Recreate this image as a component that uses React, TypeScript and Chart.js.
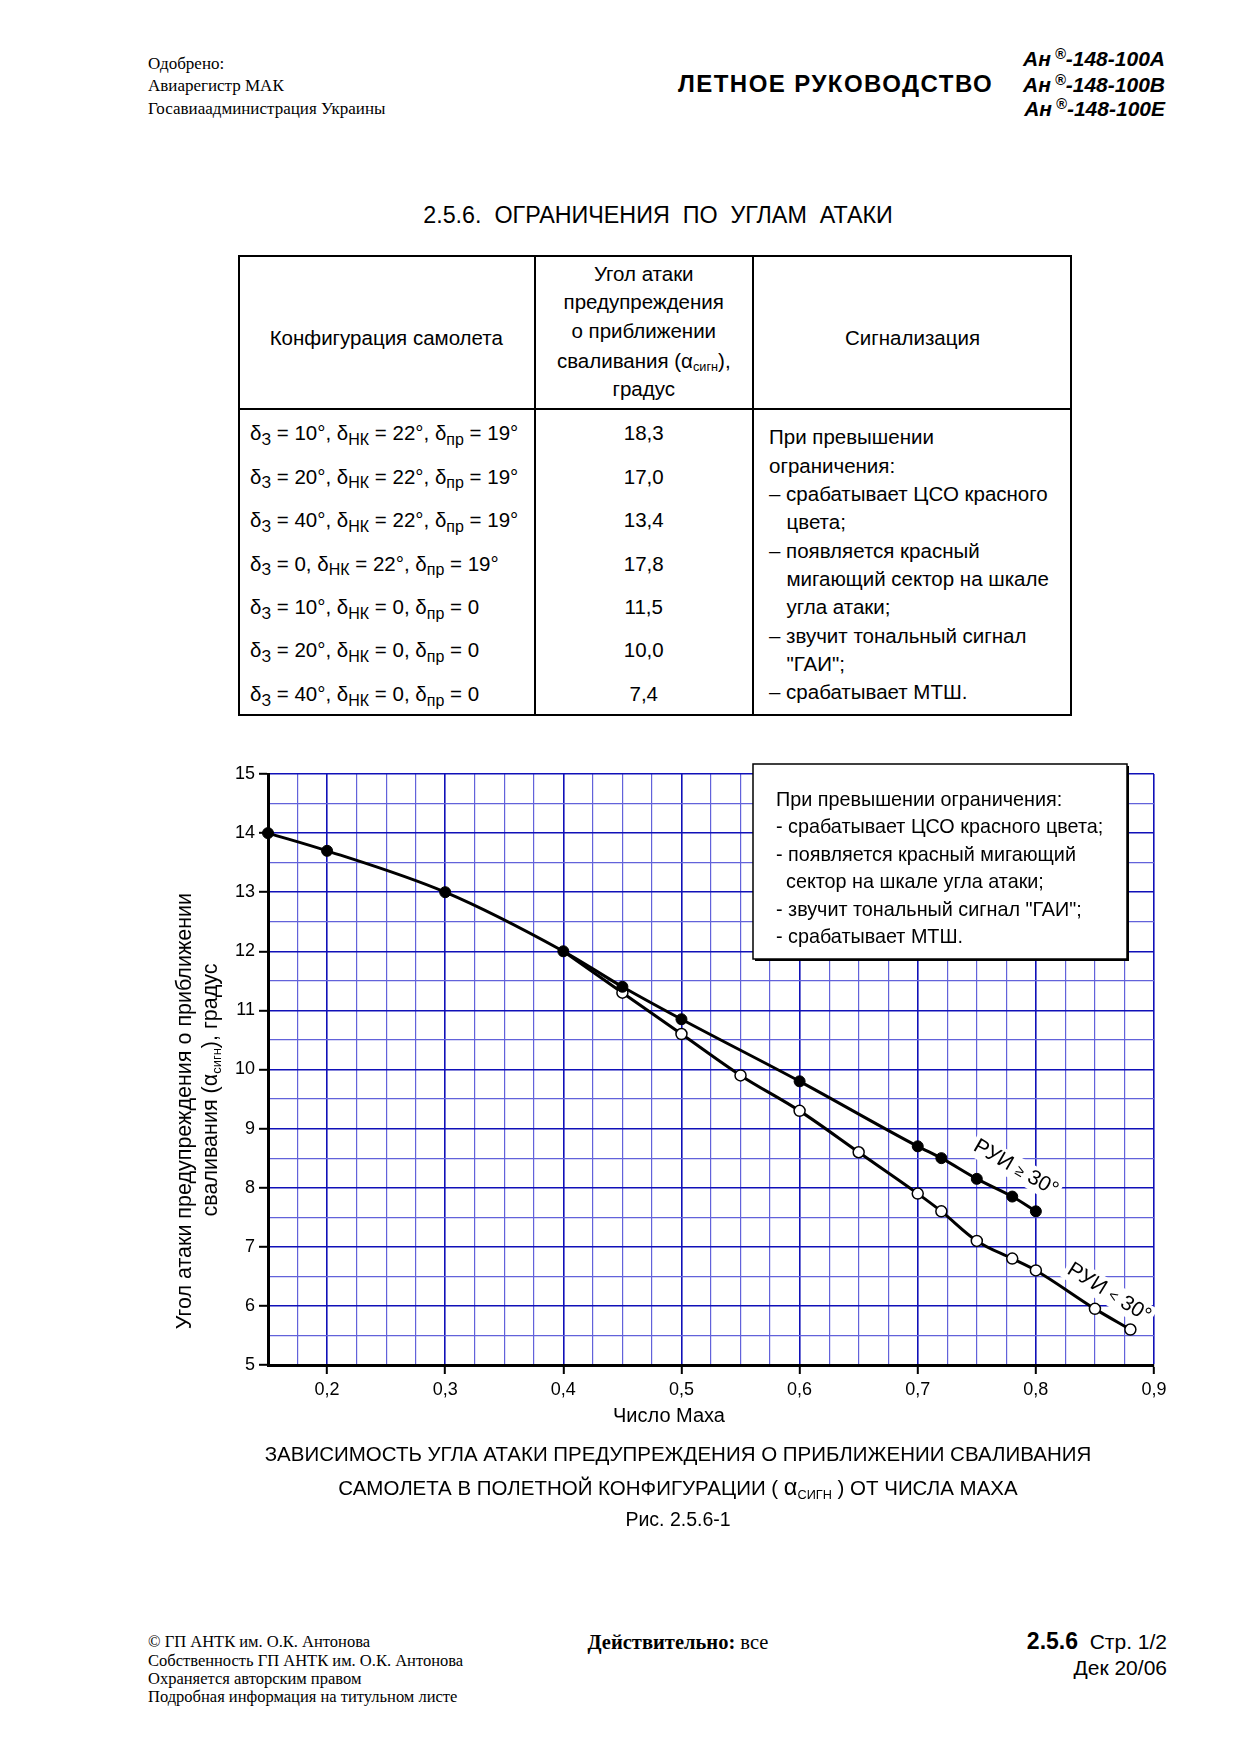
import React, { useEffect, useRef } from 'react';
import { Chart, registerables } from 'chart.js';

Chart.register(...registerables);

// ---------------- DATA ----------------
const MACH_RUI_GE30 = [0.15, 0.2, 0.3, 0.4, 0.45, 0.5, 0.6, 0.7, 0.72, 0.75, 0.78, 0.8];
const ALPHA_RUI_GE30 = [14.0, 13.7, 13.0, 12.0, 11.4, 10.85, 9.8, 8.7, 8.5, 8.15, 7.85, 7.6];
const MACH_RUI_LT30 = [0.4, 0.45, 0.5, 0.55, 0.6, 0.65, 0.7, 0.72, 0.75, 0.78, 0.8, 0.85, 0.88];
const ALPHA_RUI_LT30 = [12.0, 11.3, 10.6, 9.9, 9.3, 8.6, 7.9, 7.6, 7.1, 6.8, 6.6, 5.95, 5.6];

const X_TICK_VALUES = [0.2, 0.3, 0.4, 0.5, 0.6, 0.7, 0.8, 0.9];
const X_TICK_LABELS = ['0,2', '0,3', '0,4', '0,5', '0,6', '0,7', '0,8', '0,9'];
const Y_TICK_VALUES = [5, 6, 7, 8, 9, 10, 11, 12, 13, 14, 15];
const Y_TICK_LABELS = ['5', '6', '7', '8', '9', '10', '11', '12', '13', '14', '15'];
const X_MIN = 0.15;
const X_MAX = 0.9;
const X_MINOR_STEP = 0.025;
const Y_MIN = 5;
const Y_MAX = 15;
const Y_MINOR_STEP = 0.5;

const CONFIG_FLAP = ['10°', '20°', '40°', '0', '10°', '20°', '40°'];
const CONFIG_NK = ['22°', '22°', '22°', '22°', '0', '0', '0'];
const CONFIG_PR = ['19°', '19°', '19°', '19°', '0', '0', '0'];
const ALPHA_WARN = ['18,3', '17,0', '13,4', '17,8', '11,5', '10,0', '7,4'];

const SIGNAL_LINES: [string, boolean][] = [
  ['При превышении', false],
  ['ограничения:', false],
  ['– срабатывает ЦСО красного', false],
  ['цвета;', true],
  ['– появляется красный', false],
  ['мигающий сектор на шкале', true],
  ['угла атаки;', true],
  ['– звучит тональный сигнал', false],
  ['"ГАИ";', true],
  ['– срабатывает МТШ.', false],
];

const BOX_LINES: [string, boolean][] = [
  ['При превышении ограничения:', false],
  ['- срабатывает ЦСО красного цвета;', false],
  ['- появляется красный мигающий', false],
  ['сектор на шкале угла атаки;', true],
  ['- звучит тональный сигнал "ГАИ";', false],
  ['- срабатывает МТШ.', false],
];

// ---------------- STYLE ----------------
const SANS = '"Liberation Sans", Arial, sans-serif';
const SERIF = '"Liberation Serif", "Times New Roman", serif';
const GRID_MAJOR = '#1010b8';
const GRID_MINOR = '#6262da';

const CANVAS_LEFT = 150;
const CANVAS_TOP = 740;
const CANVAS_W = 1030;
const CANVAS_H = 700;
const px = (x: number) => x - CANVAS_LEFT;
const py = (y: number) => y - CANVAS_TOP;

const isMajorX = (v: number) => X_TICK_VALUES.some((t) => Math.abs(t - v) < 1e-6);
const isMajorY = (v: number) => Y_TICK_VALUES.some((t) => Math.abs(t - v) < 1e-6);

type Seg = [string, number, number];

function drawSegs(ctx: CanvasRenderingContext2D, segs: Seg[], family: string, startX?: number) {
  const widths = segs.map(([t, s]) => {
    ctx.font = `${s}px ${family}`;
    return ctx.measureText(t).width;
  });
  const total = widths.reduce((a, b) => a + b, 0);
  let x = startX === undefined ? -total / 2 : startX;
  segs.forEach(([t, s, dy], i) => {
    ctx.font = `${s}px ${family}`;
    ctx.fillText(t, x, dy);
    x += widths[i];
  });
  return total;
}

function measureSegs(ctx: CanvasRenderingContext2D, segs: Seg[], family: string) {
  return segs.reduce((acc, [t, s]) => {
    ctx.font = `${s}px ${family}`;
    return acc + ctx.measureText(t).width;
  }, 0);
}

const decorPlugin = {
  id: 'decor',
  afterDraw(chart: any) {
    const ctx: CanvasRenderingContext2D = chart.ctx;
    const xs = chart.scales.x;
    const ys = chart.scales.y;
    ctx.save();
    ctx.fillStyle = '#000';
    ctx.textAlign = 'left';
    ctx.textBaseline = 'middle';

    // curve labels
    const labels: { x: number; y: number; ang: number; segs: Seg[] }[] = [
      { x: 0.783, y: 8.33, ang: 30, segs: [['РУИ ', 21, 0], ['≥', 15, 1], [' 30°', 21, 0]] },
      { x: 0.862, y: 6.22, ang: 32, segs: [['РУИ ', 21, 0], ['<', 15, 1], [' 30°', 21, 0]] },
    ];
    labels.forEach((l) => {
      ctx.save();
      ctx.translate(xs.getPixelForValue(l.x), ys.getPixelForValue(l.y));
      ctx.rotate((l.ang * Math.PI) / 180);
      const w = measureSegs(ctx, l.segs, SANS);
      ctx.fillStyle = '#fff';
      ctx.fillRect(-w / 2 - 3, -12, w + 6, 24);
      ctx.fillStyle = '#000';
      drawSegs(ctx, l.segs, SANS);
      ctx.restore();
    });

    // note box
    const bx = px(753), byy = py(764), bw = 374, bh = 195;
    ctx.fillStyle = '#000';
    ctx.fillRect(bx + 2, byy + 2, bw, bh);
    ctx.fillStyle = '#fff';
    ctx.fillRect(bx, byy, bw, bh);
    ctx.strokeStyle = '#000';
    ctx.lineWidth = 1.5;
    ctx.strokeRect(bx, byy, bw, bh);
    ctx.fillStyle = '#000';
    ctx.textBaseline = 'alphabetic';
    ctx.font = `19.8px ${SANS}`;
    BOX_LINES.forEach(([t, indent], i) => {
      ctx.fillText(t, px(indent ? 786 : 776), py(806 + i * 27.4));
    });

    // y axis title
    ctx.textBaseline = 'middle';
    ctx.save();
    ctx.translate(px(185), py(1111));
    ctx.rotate(-Math.PI / 2);
    drawSegs(ctx, [['Угол атаки предупреждения о приближении', 21.5, 0]], SANS);
    ctx.restore();
    ctx.save();
    ctx.translate(px(211), py(1090));
    ctx.rotate(-Math.PI / 2);
    drawSegs(ctx, [['сваливания (α', 21.5, 0], ['сигн', 13, 6], ['), градус', 21.5, 0]], SANS);
    ctx.restore();

    // x axis title
    ctx.font = `20px ${SANS}`;
    ctx.textAlign = 'center';
    ctx.fillText('Число Маха', px(669), py(1416));
    ctx.restore();
  },
};

function ChartCanvas() {
  const ref = useRef<HTMLCanvasElement | null>(null);
  useEffect(() => {
    if (!ref.current) return;
    const chart = new Chart(ref.current, {
      type: 'line',
      data: {
        datasets: [
          {
            label: 'РУИ ≥ 30°',
            data: MACH_RUI_GE30.map((x, i) => ({ x, y: ALPHA_RUI_GE30[i] })),
            borderColor: '#000',
            borderWidth: 3,
            pointRadius: 5.5,
            pointBackgroundColor: '#000',
            pointBorderColor: '#000',
            pointBorderWidth: 1,
            cubicInterpolationMode: 'monotone',
            order: 0,
            clip: false,
          } as any,
          {
            label: 'РУИ < 30°',
            data: MACH_RUI_LT30.map((x, i) => ({ x, y: ALPHA_RUI_LT30[i] })),
            borderColor: '#000',
            borderWidth: 3,
            pointRadius: (c: any) => (c.dataIndex === 0 ? 0 : 5.5),
            pointBackgroundColor: '#fff',
            pointBorderColor: '#000',
            pointBorderWidth: 1.5,
            cubicInterpolationMode: 'monotone',
            order: 1,
            clip: false,
          } as any,
        ],
      },
      options: {
        responsive: false,
        animation: false,
        events: [],
        layout: { padding: { top: 34, right: 26, bottom: 0, left: 0 } },
        plugins: { legend: { display: false }, tooltip: { enabled: false }, title: { display: false } },
        scales: {
          x: {
            type: 'linear',
            min: X_MIN,
            max: X_MAX,
            afterBuildTicks: (s: any) => {
              const n = Math.round((X_MAX - X_MIN) / X_MINOR_STEP);
              const t = [];
              for (let i = 0; i <= n; i++) t.push({ value: Math.round((X_MIN + i * X_MINOR_STEP) * 1000) / 1000 });
              s.ticks = t;
            },
            afterFit: (s: any) => {
              s.height = CANVAS_H - (1365 - CANVAS_TOP);
            },
            ticks: {
              autoSkip: false,
              maxRotation: 0,
              minRotation: 0,
              padding: 5,
              color: '#000',
              font: { family: SANS, size: 18 },
              callback: (v: any) => {
                const i = X_TICK_VALUES.findIndex((t) => Math.abs(t - v) < 1e-6);
                return i >= 0 ? X_TICK_LABELS[i] : '';
              },
            },
            grid: {
              z: -1,
              color: (c: any) => (c.tick && isMajorX(c.tick.value) ? GRID_MAJOR : GRID_MINOR),
              lineWidth: (c: any) => (c.tick && isMajorX(c.tick.value) ? 1.6 : 1.2),
              tickColor: (c: any) => (c.tick && isMajorX(c.tick.value) ? '#000' : 'rgba(0,0,0,0)'),
              tickLength: 9,
              tickWidth: 2,
              drawTicks: true,
            },
            border: { display: true, color: '#000', width: 3 },
          },
          y: {
            type: 'linear',
            min: Y_MIN,
            max: Y_MAX,
            afterFit: (s: any) => {
              s.width = 268 - CANVAS_LEFT;
            },
            ticks: {
              stepSize: Y_MINOR_STEP,
              autoSkip: false,
              padding: 4,
              color: '#000',
              font: { family: SANS, size: 18 },
              callback: (v: any) => {
                const i = Y_TICK_VALUES.findIndex((t) => Math.abs(t - v) < 1e-6);
                return i >= 0 ? Y_TICK_LABELS[i] : '';
              },
            },
            grid: {
              z: -1,
              color: (c: any) => (c.tick && isMajorY(c.tick.value) ? GRID_MAJOR : GRID_MINOR),
              lineWidth: (c: any) => (c.tick && isMajorY(c.tick.value) ? 1.6 : 1.2),
              tickColor: (c: any) => (c.tick && isMajorY(c.tick.value) ? '#000' : 'rgba(0,0,0,0)'),
              tickLength: 9,
              tickWidth: 2,
              drawTicks: true,
            },
            border: { display: true, color: '#000', width: 3 },
          },
        },
      } as any,
      plugins: [decorPlugin],
    });
    return () => chart.destroy();
  }, []);
  return (
    <div style={{ position: 'absolute', left: CANVAS_LEFT, top: CANVAS_TOP, width: CANVAS_W, height: CANVAS_H }}>
      <canvas ref={ref} width={CANVAS_W} height={CANVAS_H} style={{ display: 'block', width: CANVAS_W, height: CANVAS_H }} />
    </div>
  );
}

// ---------------- HTML text helpers ----------------
type TxtProps = {
  x: number;
  y: number;
  size: number;
  align?: 'left' | 'center' | 'right';
  family?: string;
  weight?: number;
  italic?: boolean;
  ls?: number;
  children: any;
};

function Txt({ x, y, size, align = 'left', family = SANS, weight = 400, italic = false, ls = 0, children }: TxtProps) {
  const L = Math.round(size * 1.4);
  const style: any = {
    position: 'absolute',
    top: y - L / 2,
    lineHeight: `${L}px`,
    fontSize: size,
    fontFamily: family,
    fontWeight: weight,
    fontStyle: italic ? 'italic' : 'normal',
    whiteSpace: 'pre',
    letterSpacing: ls,
    color: '#000',
  };
  if (align === 'left') style.left = x;
  else if (align === 'center') {
    style.left = x - 600;
    style.width = 1200;
    style.textAlign = 'center';
  } else {
    style.left = x - 1000;
    style.width = 1000;
    style.textAlign = 'right';
  }
  return <div style={style}>{children}</div>;
}

const Sub = ({ children, size = '0.78em', drop = '0.3em' }: any) => (
  <span style={{ fontSize: size, position: 'relative', top: drop }}>{children}</span>
);

const Line = ({ x, y, w, h }: any) => (
  <div style={{ position: 'absolute', left: x, top: y, width: w, height: h, background: '#000' }} />
);

export default function App() {
  const TABLE_L = 238, TABLE_T = 255, TABLE_R = 1072, TABLE_B = 716;
  const COL1 = 534.5, COL2 = 753, HEAD_B = 409;
  const col2c = (COL1 + COL2) / 2;
  const TF = 20.5;
  return (
    <div style={{ position: 'absolute', left: 0, top: 0, width: 1240, height: 1755, background: '#fff', overflow: 'hidden' }}>
      {/* header */}
      <Txt x={148} y={63.8} size={17} family={SERIF}>Одобрено:</Txt>
      <Txt x={148} y={86.2} size={17} family={SERIF}>Авиарегистр МАК</Txt>
      <Txt x={148} y={108.6} size={17} family={SERIF}>Госавиаадминистрация Украины</Txt>
      <Txt x={678} y={84} size={24} weight={700} ls={1.45}>ЛЕТНОЕ РУКОВОДСТВО</Txt>
      {['А', 'В', 'Е'].map((v, i) => (
        <Txt key={v} x={1165} y={[58.2, 84, 108.6][i]} size={21} weight={700} italic align="right">
          Ан<span style={{ fontSize: '0.7em', position: 'relative', top: '-0.45em' }}> ®</span>-148-100{v}
        </Txt>
      ))}

      {/* section title */}
      <Txt x={658} y={215} size={23.3} align="center">2.5.6.  ОГРАНИЧЕНИЯ  ПО  УГЛАМ  АТАКИ</Txt>

      {/* table frame */}
      <div style={{ position: 'absolute', left: TABLE_L, top: TABLE_T, width: TABLE_R - TABLE_L, height: TABLE_B - TABLE_T, border: '2px solid #000', boxSizing: 'border-box' }} />
      <Line x={COL1 - 1} y={TABLE_T} w={2} h={TABLE_B - TABLE_T} />
      <Line x={COL2 - 1} y={TABLE_T} w={2} h={TABLE_B - TABLE_T} />
      <Line x={TABLE_L} y={HEAD_B - 1} w={TABLE_R - TABLE_L} h={2} />

      {/* table header */}
      <Txt x={(TABLE_L + COL1) / 2} y={337.7} size={TF} align="center">Конфигурация самолета</Txt>
      <Txt x={(COL2 + TABLE_R) / 2} y={337.7} size={TF} align="center">Сигнализация</Txt>
      <Txt x={col2c} y={273.3} size={TF} align="center">Угол атаки</Txt>
      <Txt x={col2c} y={301.7} size={TF} align="center">предупреждения</Txt>
      <Txt x={col2c} y={330.7} size={TF} align="center">о приближении</Txt>
      <Txt x={col2c} y={360} size={TF} align="center">
        сваливания (α<Sub size="0.62em">сигн</Sub>),
      </Txt>
      <Txt x={col2c} y={388.3} size={TF} align="center">градус</Txt>

      {/* table body */}
      {ALPHA_WARN.map((a, i) => {
        const y = 432.7 + i * 43.45;
        return (
          <React.Fragment key={i}>
            <Txt x={250} y={y} size={TF}>
              δ<Sub>З</Sub> = {CONFIG_FLAP[i]}, δ<Sub>НК</Sub> = {CONFIG_NK[i]}, δ<Sub>пр</Sub> = {CONFIG_PR[i]}
            </Txt>
            <Txt x={col2c} y={y} size={TF} align="center">{a}</Txt>
          </React.Fragment>
        );
      })}
      {SIGNAL_LINES.map(([t, indent], i) => (
        <Txt key={i} x={indent ? 786.5 : 769} y={436.7 + i * 28.33} size={TF}>{t}</Txt>
      ))}

      {/* chart */}
      <ChartCanvas />

      {/* caption */}
      <Txt x={678} y={1453.7} size={20.5} align="center">ЗАВИСИМОСТЬ УГЛА АТАКИ ПРЕДУПРЕЖДЕНИЯ О ПРИБЛИЖЕНИИ СВАЛИВАНИЯ</Txt>
      <Txt x={678} y={1487} size={20.5} align="center">
        САМОЛЕТА В ПОЛЕТНОЙ КОНФИГУРАЦИИ ( <span style={{ fontSize: '1.15em' }}>α</span><Sub size="0.62em" drop="0.35em">СИГН</Sub> ) ОТ ЧИСЛА МАХА
      </Txt>
      <Txt x={678} y={1519.8} size={19.5} align="center">Рис. 2.5.6-1</Txt>

      {/* footer */}
      <Txt x={148} y={1641.7} size={16.5} family={SERIF}>© ГП АНТК им. О.К. Антонова</Txt>
      <Txt x={148} y={1660} size={16.5} family={SERIF}>Собственность ГП АНТК им. О.К. Антонова</Txt>
      <Txt x={148} y={1678.3} size={16.5} family={SERIF}>Охраняется авторским правом</Txt>
      <Txt x={148} y={1696.7} size={16.5} family={SERIF}>Подробная информация на титульном листе</Txt>
      <Txt x={587.5} y={1642.5} size={20.5} family={SERIF}>
        <b>Действительно:</b> все
      </Txt>
      <Txt x={1167} y={1641.4} size={21} align="right">
        <b style={{ fontSize: 23 }}>2.5.6</b>  Стр. 1/2
      </Txt>
      <Txt x={1167} y={1667.5} size={21} align="right">Дек 20/06</Txt>
    </div>
  );
}
